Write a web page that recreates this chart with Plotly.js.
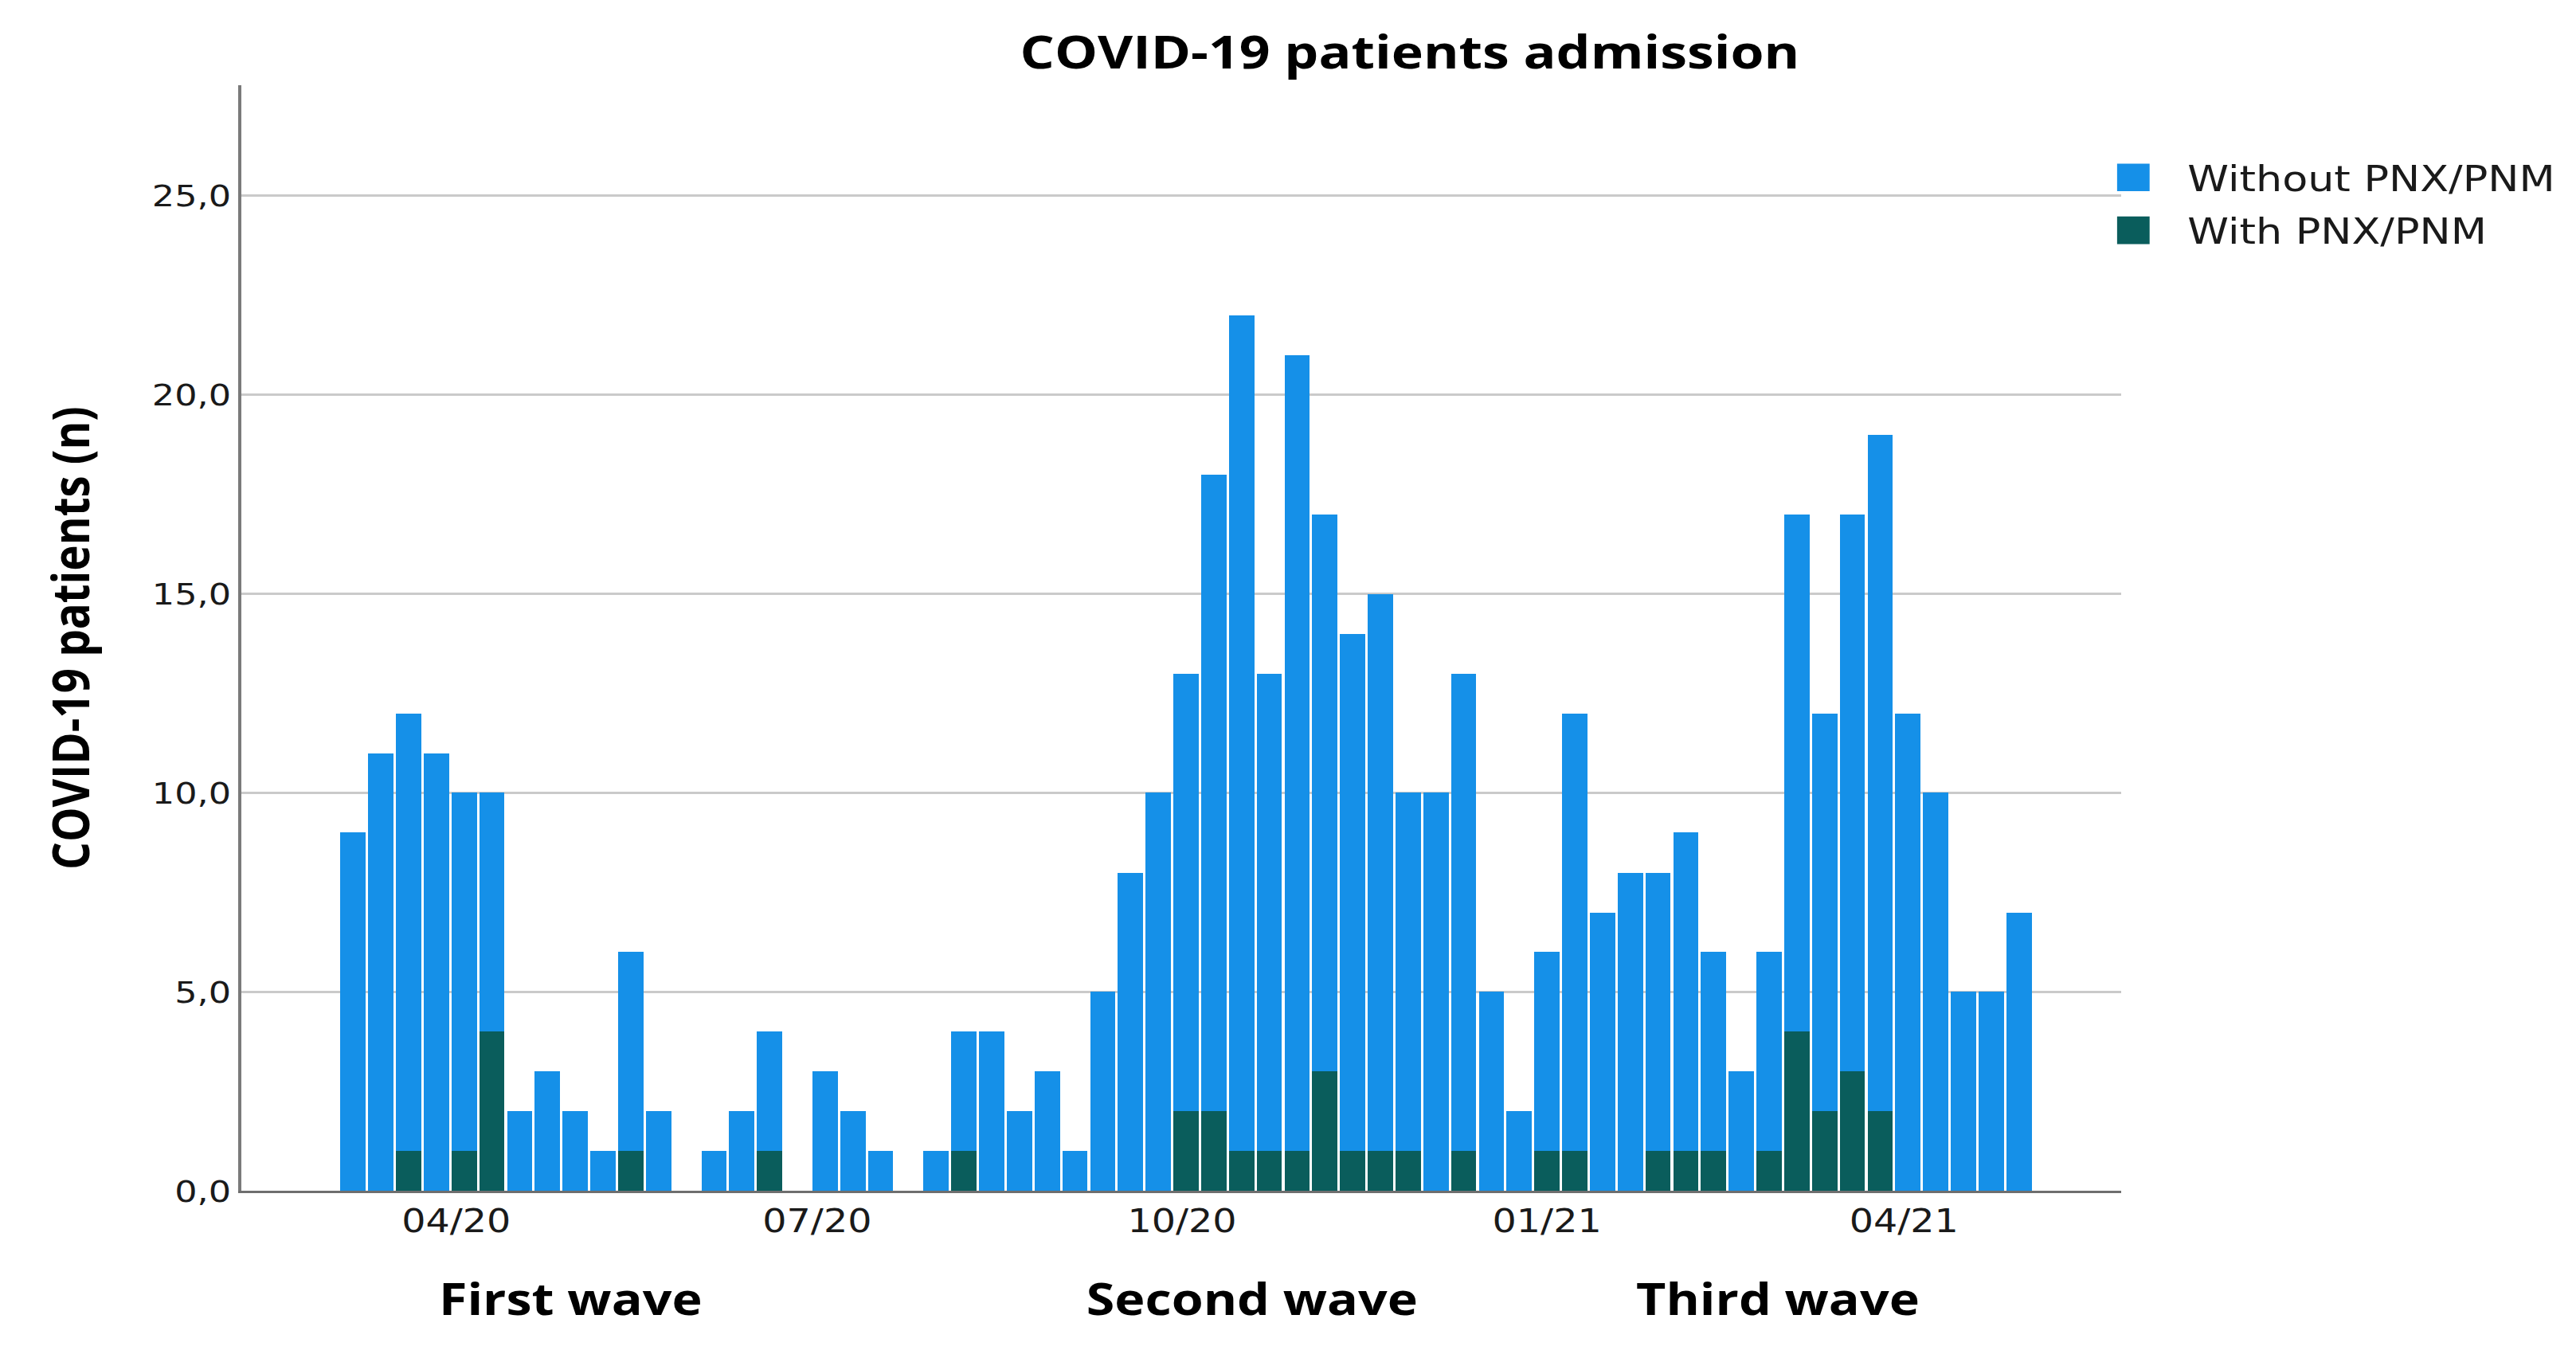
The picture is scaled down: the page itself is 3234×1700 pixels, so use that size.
<!DOCTYPE html>
<html>
<head>
<meta charset="utf-8">
<script src="https://cdn.plot.ly/plotly-3.0.1.min.js"></script>
<style>
  html, body { margin: 0; padding: 0; background: #ffffff; width: 3234px; height: 1700px; }
  #chart { width: 951px; height: 590px; transform: scale(3.4006, 2.8814); transform-origin: 0 0; }
</style>
</head>
<body>
<div id="chart"></div>
<script>
// Weekly admission bins (centre of each week)
const weeks = ["2020-03-06","2020-03-13","2020-03-20","2020-03-27","2020-04-03","2020-04-10","2020-04-17","2020-04-24",
  "2020-05-01","2020-05-08","2020-05-15","2020-05-22","2020-05-29","2020-06-05","2020-06-12","2020-06-19","2020-06-26",
  "2020-07-03","2020-07-10","2020-07-17","2020-07-24","2020-07-31","2020-08-07","2020-08-14","2020-08-21","2020-08-28",
  "2020-09-04","2020-09-11","2020-09-18","2020-09-25","2020-10-02","2020-10-09","2020-10-16","2020-10-23","2020-10-30",
  "2020-11-06","2020-11-13","2020-11-20","2020-11-27","2020-12-04","2020-12-11","2020-12-18","2020-12-25",
  "2021-01-01","2021-01-08","2021-01-15","2021-01-22","2021-01-29","2021-02-05","2021-02-12","2021-02-19","2021-02-26",
  "2021-03-05","2021-03-12","2021-03-19","2021-03-26","2021-04-02","2021-04-09","2021-04-16","2021-04-23","2021-04-30"];

// Patients with pneumothorax / pneumomediastinum
const withPnx = [0,0,1,0,1,4,0,0,0,0, 1,0,0,0,0,1,0,0,0,0, 0,0,1,0,0,0,0,0,0,0,
  2,2,1,1,1,3,1,1,1,0, 1,0,0,1,1,0,0,1,1,1, 0,1,4,2,3,2,0,0,0,0,0];

// Patients without pneumothorax / pneumomediastinum
const withoutPnx = [9,11,11,11,9,6,2,3,2,1, 5,2,0,1,2,3,0,3,2,1, 0,1,3,4,2,3,1,5,8,10,
  11,16,21,12,20,14,13,14,9,10, 12,5,2,5,11,7,8,7,8,5, 3,5,13,10,14,17,12,10,5,5,7];

const seriesNames = ["With PNX/PNM", "Without PNX/PNM"];
const yTicks = [0, 5, 10, 15, 20, 25];
const waveLabels = ["First wave", "Second wave", "Third wave"];

const regular = "DejaVu Sans, Verdana, sans-serif";
const bold = "Open Sans, Noto Sans, sans-serif";

const traces = [
  { type: "bar", name: seriesNames[0], x: weeks, y: withPnx,
    marker: { color: "#0a5d5c", line: { width: 0 } }, hoverinfo: "x+y+name" },
  { type: "bar", name: seriesNames[1], x: weeks, y: withoutPnx,
    marker: { color: "#1590e8", line: { width: 0 } }, hoverinfo: "x+y+name" }
];

const waveX = [0.1747, 0.5375, 0.8175];

const layout = {
  width: 951, height: 590,
  margin: { l: 89, r: 168, t: 37, b: 71, pad: 0, autoexpand: false },
  paper_bgcolor: "#ffffff", plot_bgcolor: "#ffffff",
  barmode: "stack", bargap: 0.09,
  separators: ",.",
  font: { family: regular, color: "#1a1a1a", size: 13 },
  title: {
    text: "COVID-19 patients admission",
    font: { family: bold, size: 20, weight: "bold", color: "#000000" },
    xref: "container", x: 0.5473, xanchor: "center",
    yref: "container", y: 0.9612, yanchor: "middle"
  },
  xaxis: {
    type: "date",
    range: ["2020-02-06 18:00", "2021-05-25 17:00"],
    tick0: "2020-01-01", dtick: "M3", tickformat: "%m/%y",
    ticks: "", showgrid: false, zeroline: false,
    showline: true, linecolor: "#6e6e6e", linewidth: 1,
    tickfont: { family: regular, size: 14, color: "#1a1a1a" },
    ticklabelstandoff: 2.5
  },
  yaxis: {
    range: [0, 27.78],
    tickmode: "array", tickvals: yTicks, tickformat: ".1f",
    ticks: "", showgrid: true, gridcolor: "#cacaca", gridwidth: 1.1,
    zeroline: false, showline: true, linecolor: "#7a7a7a", linewidth: 1.2,
    tickfont: { family: regular, size: 13.1, color: "#1a1a1a" },
    ticklabelstandoff: 2.2,
    title: {
      text: "COVID-19 patients (n)",
      font: { family: bold, size: 19, weight: "bold", color: "#000000" },
      standoff: 17
    }
  },
  legend: {
    x: 0.9778, xanchor: "left", xref: "paper",
    y: 0.9506, yanchor: "top", yref: "paper",
    traceorder: "reversed",
    font: { family: regular, size: 15.4, color: "#1a1a1a" },
    bgcolor: "rgba(0,0,0,0)", borderwidth: 0
  },
  annotations: waveLabels.map((t, i) => ({
    text: t, xref: "paper", yref: "paper", x: waveX[i], y: -0.0969,
    xanchor: "center", yanchor: "middle", showarrow: false,
    font: { family: bold, size: 19, weight: "bold", color: "#000000" }
  })),
  showlegend: true
};

Plotly.newPlot("chart", traces, layout, { displayModeBar: false, responsive: false });
</script>
</body>
</html>
